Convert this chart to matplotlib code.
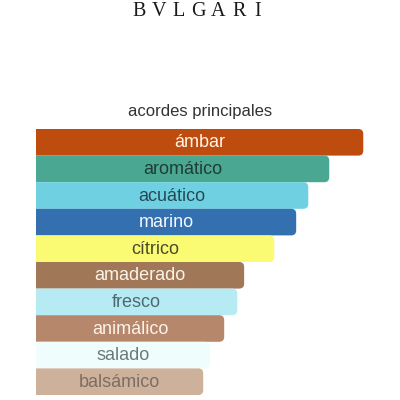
import matplotlib
matplotlib.use("Agg")
import matplotlib.pyplot as plt
from matplotlib.patches import FancyBboxPatch

categories = ["ámbar", "aromático", "acuático", "marino", "cítrico",
              "amaderado", "fresco", "animálico", "salado", "balsámico"]
values = [100, 89.6, 83.2, 79.5, 72.8, 63.6, 61.5, 57.5, 53.2, 51.1]
bar_colors = ["#bf4c0f", "#4aa791", "#6fd0e2", "#346fb0", "#fafb72",
              "#a07858", "#b7ebf3", "#b6876a", "#effefd", "#cdb19b"]
text_colors = ["#fff4e6", "#1f3d36", "#244b55", "#f4f8ff", "#4a4a2a",
               "#fbf3ea", "#4c6870", "#fbf3ea", "#6e7878", "#7c6e64"]
brand_letters = ["B", "V", "L", "G", "A", "R", "I"]

fig = plt.figure(figsize=(4, 4), dpi=100)
fig.patch.set_facecolor("white")

W, H = 400, 400
left_px, right_px = 36, 396
top_px, bot_px = 129, 395
ax = fig.add_axes([left_px / W, (H - bot_px) / H,
                   (right_px - left_px) / W, (bot_px - top_px) / H])
xmax = 110
ax.set_xlim(0, xmax)
n = len(categories)
ax.set_ylim(n - 0.5, -0.5)
ax.axis("off")

xu = xmax / (right_px - left_px)
yu = n / (bot_px - top_px)
r_px = 5
for i, (cat, v, c, tc) in enumerate(zip(categories, values, bar_colors, text_colors)):
    x0 = -3
    p = FancyBboxPatch((x0, i - 0.5), v - x0, 1.0,
                       boxstyle=f"round,pad=0,rounding_size={r_px * xu}",
                       mutation_aspect=yu / xu,
                       facecolor=c, edgecolor="none", clip_on=True)
    ax.add_patch(p)
    ax.text(v / 2, i + 0.02, cat, ha="center", va="center", color=tc,
            fontsize=13, family="Liberation Sans")

fig.text(0.5, 1 - 111 / H, "acordes principales", ha="center", va="center",
         fontsize=12, color="#333333", family="Liberation Sans")

letter_x = [139.5, 159, 178.5, 198, 218.5, 239.5, 257.5]
for ch, lx in zip(brand_letters, letter_x):
    fig.text(lx / W, 1 - 11.5 / H, ch, ha="center", va="center",
             fontsize=14.5, color="#1a1a1a", family="Liberation Serif")

fig.savefig("out.png", dpi=100)
